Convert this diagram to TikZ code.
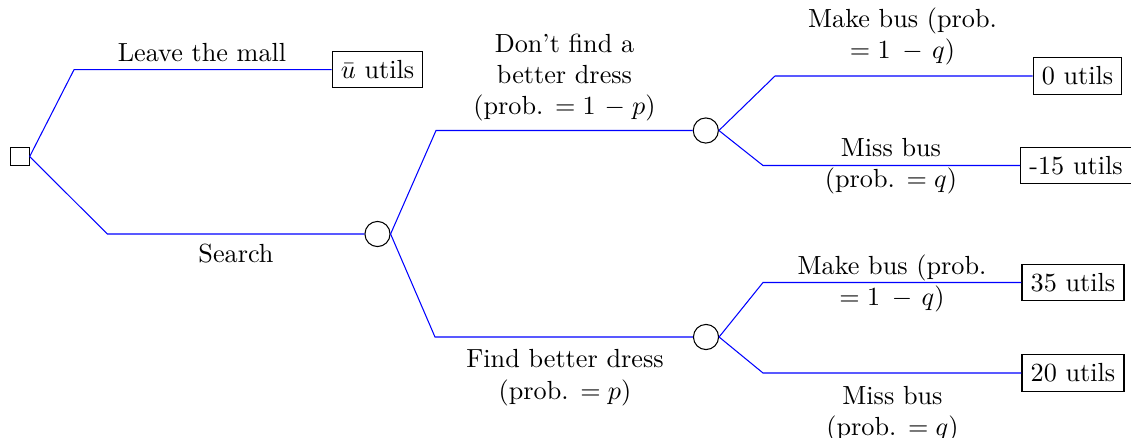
\documentclass[tikz,border=0pt]{standalone}
\begin{document}
\begin{tikzpicture}[x=0.3817pt,y=-0.3817pt,
  branch/.style={blue, line width=0.4pt},
  decision/.style={draw, rectangle, minimum size=7pt, inner sep=0pt},
  chance/.style={draw, circle, minimum size=9.6pt, inner sep=0pt},
  payoff/.style={draw, inner sep=3.33pt},
  lbl/.style={align=center, inner sep=0pt}]
\useasboundingbox (0,0) rectangle (1131,437);
% nodes
\node[decision] (d) at (20,156.5) {};
\node[chance] (c1) at (377.5,234) {};
\node[chance] (c2) at (705.8,130.5) {};
\node[chance] (c3) at (706,337) {};
\node[payoff] (u) at (377.5,69.7) {$\bar u$ utils};
\node[payoff] (p0) at (1077.5,76) {0 utils};
\node[payoff] (p15) at (1076,165.5) {-15 utils};
\node[payoff] (p35) at (1073,282.5) {35 utils};
\node[payoff] (p20) at (1073,373) {20 utils};
% bend points
\coordinate (k1) at (74,69.7);
\coordinate (k2) at (107.3,234);
\coordinate (k3) at (436,130.5);
\coordinate (k4) at (435,337);
\coordinate (k5) at (775,76);
\coordinate (k6) at (763,165.5);
\coordinate (k7) at (763,282.5);
\coordinate (k8) at (763,373);
% connectors
\draw[branch] (d.east) -- (k1) -- (u.west);
\draw[branch] (d.east) -- (k2) -- (c1.west);
\draw[branch] (c1.east) -- (k3) -- (c2.west);
\draw[branch] (c1.east) -- (k4) -- (c3.west);
\draw[branch] (c2.east) -- (k5) -- (p0.west);
\draw[branch] (c2.east) -- (k6) -- (p15.west);
\draw[branch] (c3.east) -- (k7) -- (p35.west);
\draw[branch] (c3.east) -- (k8) -- (p20.west);
% labels
\node[lbl, anchor=base] (lleave) at (202,61) {Leave the mall};
\node[lbl, anchor=base] (lsearch) at (236,262) {Search};
\node[lbl] (ldont) at (564.5,77.5) {Don't find a\\better dress\\(prob. $= 1 \mskip 2mu - \mskip 1mu p$)};
\node[lbl] (lfind) at (565,377.5) {Find better dress\\(prob. $= p$)};
\node[lbl] (lmake1) at (902.5,36.5) {Make bus (prob.\\$= 1 \mskip 4mu - \mskip 2.5mu q$)};
\node[lbl] (lmiss1) at (891,166) {Miss bus\\(prob. $= q$)};
\node[lbl] (lmake2) at (892,283.5) {Make bus (prob.\\$= 1 \mskip 4mu - \mskip 2.5mu q$)};
\node[lbl] (lmiss2) at (892.5,414) {Miss bus\\(prob. $= q$)};
\end{tikzpicture}
\end{document}
